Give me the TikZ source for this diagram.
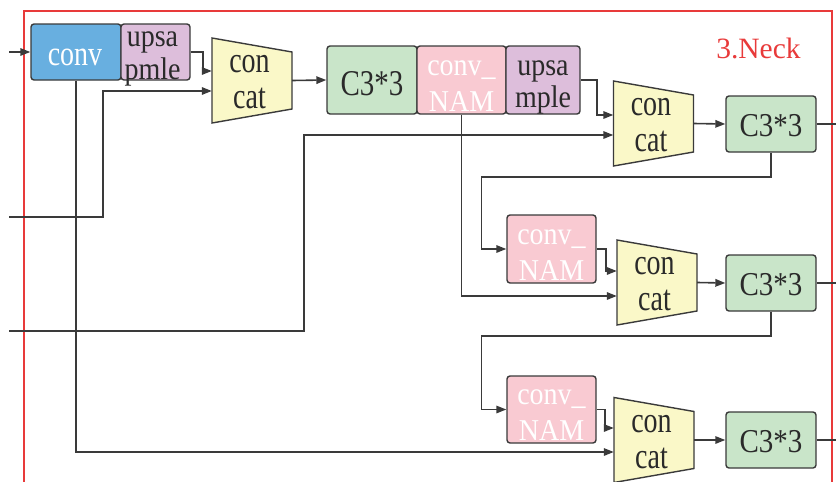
\documentclass[tikz,border=0pt]{standalone}
\usepackage{fontspec}
\usepackage{graphicx}
\setmainfont{Liberation Serif}
\usetikzlibrary{arrows.meta,calc}

\definecolor{linegray}{HTML}{3A3A3A}
\definecolor{txtdark}{HTML}{2A2A2A}
\definecolor{convblue}{HTML}{68AFE0}
\definecolor{upspurple}{HTML}{DDBEDB}
\definecolor{catyellow}{HTML}{FAF8C8}
\definecolor{cgreen}{HTML}{C9E5C9}
\definecolor{nampink}{HTML}{F9CAD2}
\definecolor{neckred}{HTML}{E83A3A}

% vertically stretched text line
\newcommand\sy[2]{\scalebox{1}[#1]{#2}}

\tikzset{
  blk/.style={draw=linegray, line width=1.4pt, rounded corners=3pt, inner sep=0pt},
  convbox/.style={blk, fill=convblue, minimum width=90pt, minimum height=56pt},
  upsbox/.style={blk, fill=upspurple},
  cbox/.style={blk, fill=cgreen, minimum width=90pt},
  nambox/.style={blk, fill=nampink, minimum width=89pt, minimum height=68pt},
  lbl/.style={inner sep=0pt, anchor=base, text=txtdark, font=\fontsize{28}{28}\selectfont},
  wlbl/.style={lbl, text=white},
  clbl/.style={lbl, font=\fontsize{29}{29}\selectfont},
  conn/.style={draw=linegray, line width=1.6pt, -{Triangle[length=10pt,width=7.5pt]}},
  wire/.style={draw=linegray, line width=1.6pt},
}

% concat block: trapezoid body with its two text lines
\newcommand\catblock[3]{%
  \filldraw[fill=catyellow, draw=linegray, line width=1.4pt, line join=miter]
    (#2-40,#3-42.5) -- (#2+40,#3-28.5) -- (#2+40,#3+28.5) -- (#2-40,#3+42.5) -- cycle;
  \node[minimum width=80pt, minimum height=85pt, inner sep=0pt] (#1) at (#2,#3) {};
  \node[lbl] (#1a) at ($(#1.center)+(-2.5,-8)$) {\sy{1.3}{con}};
  \node[lbl] (#1b) at ($(#1.center)+(-2.5,28)$) {\sy{1.3}{cat}};}

\begin{document}
\begin{tikzpicture}[x=1pt,y=-1pt]
\useasboundingbox (0,0) rectangle (836,482);
\clip (0,0) rectangle (836,482);

% neck frame and title
\draw[neckred, line width=1.3pt] (24,11) rectangle (832,500);
\node[inner sep=0pt, anchor=base, text=neckred, font=\fontsize{29.5}{30}\selectfont]
  (neck) at (758.5,58.3) {3.Neck};

% free ends of the incoming and outgoing connectors
\coordinate (in0) at (9,52);
\coordinate (in1) at (9,217);
\coordinate (in2) at (9,331);
\coordinate (out1) at (836,124);
\coordinate (out2) at (836,283);
\coordinate (out3) at (836,440);

% connectors (drawn first, blocks sit on top)
\catblock{cc1}{252}{80.5}
\catblock{cc2}{653.5}{123.5}
\catblock{cc3}{657}{282.5}
\catblock{cc4}{654}{440}

% top row
\node[convbox] (conv) at (76,52) {};
\node[upsbox, minimum width=69pt, minimum height=56pt] (up1) at (155.5,52) {};
\node[cbox, minimum height=68pt] (c1) at (372,80) {};
\node[nambox] (nam1) at (461.5,80) {};
\node[upsbox, minimum width=74pt, minimum height=68pt] (up2) at (543,80) {};
\node[cbox, minimum height=56pt] (c2) at (771,124) {};

% middle row
\node[nambox] (nam2) at (551.5,249) {};
\node[cbox, minimum height=56pt] (c3) at (771,283) {};

% bottom row
\node[nambox, minimum height=67pt] (nam3) at (551.5,409.5) {};
\node[cbox, minimum height=56pt] (c4) at (771,440) {};

% block texts
\node[wlbl] (convt) at ($(conv.center)+(-1,13)$) {\sy{1.25}{conv}};
\node[lbl] (up1a) at ($(up1.center)+(-3,-6)$) {\sy{1.12}{upsa}};
\node[lbl] (up1b) at ($(up1.center)+(-3,27)$) {\sy{1.12}{pmle}};
\node[clbl] (c1t) at ($(c1.center)+(0,15)$) {\sy{1.25}{C3*3}};
\node[wlbl] (nam1a) at ($(nam1.center)+(0,-5)$) {\sy{1.12}{conv\_}};
\node[wlbl] (nam1b) at ($(nam1.center)+(0,31)$) {\sy{1.08}{NAM}};
\node[lbl] (up2a) at ($(up2.center)+(0,-5)$) {\sy{1.12}{upsa}};
\node[lbl] (up2b) at ($(up2.center)+(0,27)$) {\sy{1.12}{mple}};
\node[clbl] (c2t) at ($(c2.center)+(0,12.5)$) {\sy{1.15}{C3*3}};
\node[wlbl] (nam2a) at ($(nam2.center)+(0,-5)$) {\sy{1.12}{conv\_}};
\node[wlbl] (nam2b) at ($(nam2.center)+(0,31)$) {\sy{1.08}{NAM}};
\node[clbl] (c3t) at ($(c3.center)+(0,12.5)$) {\sy{1.15}{C3*3}};
\node[wlbl] (nam3a) at ($(nam3.center)+(0,-5)$) {\sy{1.12}{conv\_}};
\node[wlbl] (nam3b) at ($(nam3.center)+(0,31)$) {\sy{1.08}{NAM}};
\node[clbl] (c4t) at ($(c4.center)+(0,12.5)$) {\sy{1.15}{C3*3}};

% connectors
\draw[conn] (in0) -- (conv.west);
\draw[conn] (up1.east) -| ($(cc1.west)+(-9,-9.5)$) -- ($(cc1.west)+(0,-9.5)$);
\draw[conn] (in1) -- (103,217) -- (103,91) -- ($(cc1.west)+(0,10.5)$);
\draw[conn] (conv.south) |- ($(cc4.west)+(0,12)$);
\draw[conn] (in2) -- (304,331) -- (304,135) -- ($(cc2.west)+(0,11.5)$);
\draw[conn] (cc1.east) -- (c1.west);
\draw[conn] (up2.east) -| ($(cc2.west)+(-16.5,-8.5)$) -- ($(cc2.west)+(0,-8.5)$);
\draw[conn] (nam1.south) |- ($(cc3.west)+(0,13.5)$);
\draw[conn] (cc2.east) -- (c2.west);
\draw[wire] (c2.east) -- (out1);
\draw[conn] (c2.south) -- ++(0,24) -| ($(nam2.west)+(-25,0)$) -- (nam2.west);
\draw[conn] (nam2.east) -| ($(cc3.west)+(-11,-11.5)$) -- ($(cc3.west)+(0,-11.5)$);
\draw[conn] (cc3.east) -- (c3.west);
\draw[wire] (c3.east) -- (out2);
\draw[conn] (c3.south) -- ++(0,24) -| ($(nam3.west)+(-25,0)$) -- (nam3.west);
\draw[conn] (nam3.east) -| ($(cc4.west)+(-9,-12)$) -- ($(cc4.west)+(0,-12)$);
\draw[conn] (cc4.east) -- (c4.west);
\draw[wire] (c4.east) -- (out3);
\end{tikzpicture}
\end{document}
